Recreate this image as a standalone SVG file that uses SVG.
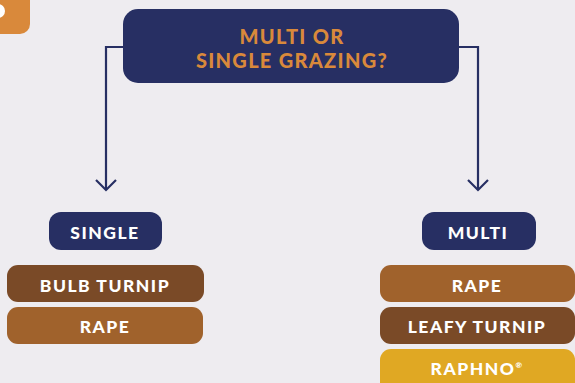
<svg xmlns="http://www.w3.org/2000/svg" width="575" height="383" viewBox="0 0 575 383">
<defs>
<style>
.navy{fill:#272f63}
.lbl{font-family:Lato,"Liberation Sans",sans-serif;font-weight:900;text-anchor:middle;fill:#ffffff;font-size:17.5px;letter-spacing:1.5px}
.ttl{font-family:Lato,"Liberation Sans",sans-serif;font-weight:900;text-anchor:middle;fill:#d9893b;font-size:20px;letter-spacing:1.3px}
.conn{fill:none;stroke:#272f63;stroke-width:2.2}
</style>
</defs>
<rect x="0" y="0" width="575" height="383" fill="#eeecf0"/>
<g id="corner-tab">
<rect x="-20" y="-20" width="50" height="54" rx="10" fill="#d9893b"/>
<circle cx="-2" cy="11" r="7" fill="#ffffff"/>
</g>
<g id="connectors">
<polyline class="conn" points="124,47 106,47 106,190"/>
<polyline class="conn" points="96,180 106,190 116,180"/>
<polyline class="conn" points="458,47 478,47 478,190"/>
<polyline class="conn" points="468,180 478,190 488,180"/>
</g>
<g id="question">
<rect class="navy" x="123" y="9" width="336" height="74" rx="15"/>
<text class="ttl" x="292" y="43.5">MULTI OR</text>
<text class="ttl" x="292" y="68">SINGLE GRAZING?</text>
</g>
<g id="single">
<rect class="navy" x="49" y="212" width="113" height="38" rx="12"/>
<text class="lbl" x="105" y="239">SINGLE</text>
</g>
<g id="bulb-turnip">
<rect x="7" y="265" width="197" height="37" rx="11" fill="#7a4a27"/>
<text class="lbl" x="105" y="292">BULB TURNIP</text>
</g>
<g id="rape-single">
<rect x="7" y="307" width="196" height="37" rx="11" fill="#a0622c"/>
<text class="lbl" x="105" y="333">RAPE</text>
</g>
<g id="multi">
<rect class="navy" x="422" y="212" width="114" height="38" rx="12"/>
<text class="lbl" x="478" y="239">MULTI</text>
</g>
<g id="rape-multi">
<rect x="380" y="265" width="195" height="37" rx="11" fill="#a0622c"/>
<text class="lbl" x="477" y="292">RAPE</text>
</g>
<g id="leafy-turnip">
<rect x="380" y="307" width="195" height="37" rx="11" fill="#7a4a27"/>
<text class="lbl" x="477" y="333">LEAFY TURNIP</text>
</g>
<g id="raphno">
<rect x="380" y="349" width="195" height="50" rx="11" fill="#e0a823"/>
<text class="lbl" x="477" y="375">RAPHNO<tspan font-size="8" dy="-7">®</tspan></text>
</g>
</svg>
